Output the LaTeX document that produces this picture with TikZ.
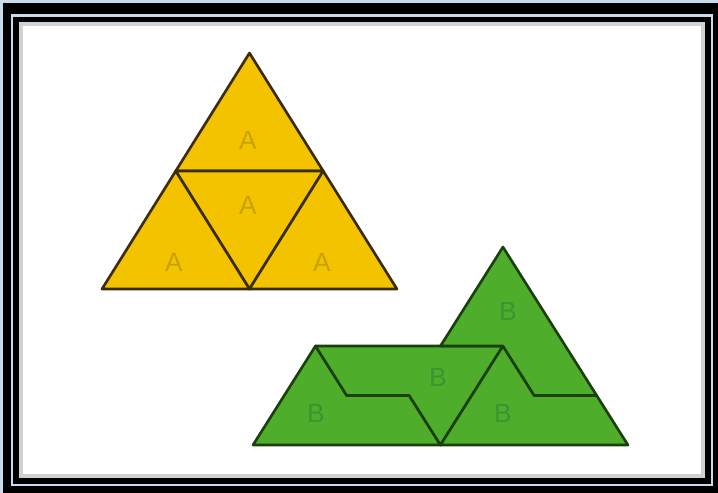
\documentclass[tikz,border=0pt]{standalone}
\usepackage{fontspec}
\setsansfont{Liberation Sans}
\usepackage{tikz}
\usetikzlibrary{positioning,calc}
\definecolor{frameblue}{HTML}{C9DCEE}
\definecolor{tileyellow}{HTML}{F4C300}
\definecolor{tileyellowtext}{HTML}{C9A100}
\definecolor{tilegreen}{HTML}{4EAE2C}
\definecolor{tilegreentext}{HTML}{3A9530}
\definecolor{yellowedge}{HTML}{3B2C05}
\definecolor{greenedge}{HTML}{1C3F0E}
\tikzset{
  tileA/.style={fill=tileyellow, draw=yellowedge, line width=1.5pt, line join=round},
  tileB/.style={fill=tilegreen, draw=greenedge, line width=1.5pt, line join=round},
  labelA/.style={font=\fontsize{15}{15}\selectfont\sffamily, text=tileyellowtext},
  labelB/.style={font=\fontsize{15}{15}\selectfont\sffamily, text=tilegreentext},
}

\begin{document}
\begin{tikzpicture}[x=0.02cm, y=-0.02cm]
  \useasboundingbox (0,0) rectangle (718,493);
  % frame
  \fill[frameblue] (0,0) rectangle (718,493);
  \fill[black] (3,3) rectangle (718,493);
  \fill[frameblue] (11,14) rectangle (713,486);
  \fill[black] (13,17) rectangle (711,484);
  \fill[white] (19,22) rectangle (705,478);
  \draw[black!18, line width=2pt] (21,24) rectangle (703,476);
  % yellow: big triangle from four A
  \begin{scope}[shift={(102,289)}, x=2.95cm, y=2.36cm]
    \coordinate (ya) at (0,0);
    \coordinate (yb) at (1,0);
    \coordinate (yc) at (2,0);
    \coordinate (yd) at (0.5,1);
    \coordinate (ye) at (1.5,1);
    \coordinate (yf) at (1,2);
  \end{scope}
  \filldraw[tileA] (yd) -- (ye) -- (yf) -- cycle;
  \filldraw[tileA] (yd) -- (ye) -- (yb) -- cycle;
  \filldraw[tileA] (ya) -- (yb) -- (yd) -- cycle;
  \filldraw[tileA] (yb) -- (yc) -- (ye) -- cycle;
  \node[labelA] (atop) at (248,140) {A};
  \node[labelA] (amid) at (248,205) {A};
  \node[labelA] (aleft) at (174,262) {A};
  \node[labelA] (aright) at (322,262) {A};
  % green: four B
  \begin{scope}[shift={(253,445)}, x=2.5cm, y=1.98cm]
    \coordinate (g00) at (0,0);
    \coordinate (g01) at (1.5,0);
    \coordinate (g02) at (3,0);
    \coordinate (g10) at (0.75,0.5);
    \coordinate (g11) at (1.25,0.5);
    \coordinate (g12) at (2.25,0.5);
    \coordinate (g13) at (2.75,0.5);
    \coordinate (g20) at (0.5,1);
    \coordinate (g21) at (1.5,1);
    \coordinate (g22) at (2,1);
    \coordinate (g30) at (2,2);
  \end{scope}
  \filldraw[tileB] (g00) -- (g20) -- (g10) -- (g11) -- (g01) -- cycle;
  \filldraw[tileB] (g20) -- (g22) -- (g01) -- (g11) -- (g10) -- cycle;
  \filldraw[tileB] (g01) -- (g22) -- (g12) -- (g13) -- (g02) -- cycle;
  \filldraw[tileB] (g30) -- (g13) -- (g12) -- (g22) -- (g21) -- cycle;
  \node[labelB] (bleft) at (316,413) {B};
  \node[labelB] (bmid) at (438,377) {B};
  \node[labelB] (bright) at (503,413) {B};
  \node[labelB] (btop) at (508,311) {B};
\end{tikzpicture}
\end{document}
